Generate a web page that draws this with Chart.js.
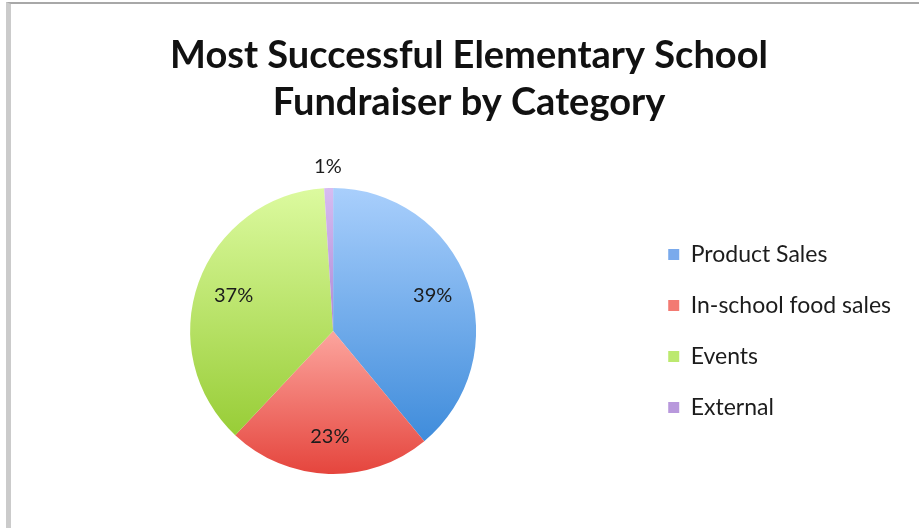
<!DOCTYPE html>
<html>
<head>
<meta charset="utf-8">
<script src="https://cdn.jsdelivr.net/npm/chart.js@4"></script>
<style>
html, body { margin: 0; padding: 0; background: #fff; overflow: hidden; }
#wrap { position: relative; width: 919px; height: 528px; }
#fundChart { position: absolute; left: 0; top: 0; }
#frame { position: absolute; left: 6px; top: 2px; right: 0; bottom: 0; border-left: 5px solid #cbcbcb; border-top: 2px solid #a8a8a8; pointer-events: none; }
</style>
</head>
<body>
<div id="wrap">
    <canvas id="fundChart" width="919" height="528"></canvas>
    <div id="frame"></div>
</div>
<script>
// Chart data
const titleLines = ['Most Successful Elementary School', 'Fundraiser by Category'];
const categories = ['Product Sales', 'In-school food sales', 'Events', 'External'];
const shares = [39, 23, 37, 1];

// Slice colours (Excel style vertical gradient per slice)
const topColors = ['#a9cffc', '#fca59e', '#dcfa9f', '#d7bcf1'];
const bottomColors = ['#3f8cdb', '#e5453d', '#98cd37', '#ae88d5'];
const legendColors = ['#7aaaec', '#f37a72', '#bce96f', '#b898dc'];

const fontFamily = 'Lato, "Open Sans", sans-serif';
const textColor = '#1c1c1c';

// Gives every slice its own top-to-bottom gradient
const sliceGradient = {
    id: 'sliceGradient',
    beforeDatasetsDraw(chart) {
        const ctx = chart.ctx;
        chart.getDatasetMeta(0).data.forEach((arc, i) => {
            const p = arc.getProps(['x', 'y', 'startAngle', 'endAngle', 'outerRadius']);
            const ys = [p.y, p.y + Math.sin(p.startAngle) * p.outerRadius, p.y + Math.sin(p.endAngle) * p.outerRadius];
            [-Math.PI / 2, Math.PI / 2, Math.PI * 1.5].forEach(a => {
                if (a >= p.startAngle && a <= p.endAngle) ys.push(p.y + Math.sin(a) * p.outerRadius);
            });
            const g = ctx.createLinearGradient(0, Math.min(...ys), 0, Math.max(...ys));
            g.addColorStop(0, topColors[i]);
            g.addColorStop(1, bottomColors[i]);
            arc.options = Object.assign({}, arc.options, { backgroundColor: g });
        });
    }
};

// Percentage labels on the slices
const sliceLabels = {
    id: 'sliceLabels',
    afterDatasetsDraw(chart) {
        const ctx = chart.ctx;
        ctx.save();
        ctx.font = '20px ' + fontFamily;
        ctx.fillStyle = textColor;
        ctx.textAlign = 'center';
        ctx.textBaseline = 'middle';
        chart.getDatasetMeta(0).data.forEach((arc, i) => {
            const p = arc.getProps(['x', 'y', 'startAngle', 'endAngle', 'outerRadius']);
            const mid = (p.startAngle + p.endAngle) / 2;
            const dist = shares[i] < 5 ? p.outerRadius + 22 : p.outerRadius * 0.74;
            ctx.fillText(shares[i] + '%', p.x + Math.cos(mid) * dist, p.y + Math.sin(mid) * dist);
        });
        ctx.restore();
    }
};

// Two line bold title, centred over the whole frame
const chartTitle = {
    id: 'chartTitle',
    afterDraw(chart) {
        const ctx = chart.ctx;
        ctx.save();
        ctx.font = 'bold 38px ' + fontFamily;
        ctx.fillStyle = '#111';
        ctx.textAlign = 'center';
        ctx.textBaseline = 'alphabetic';
        ctx.fillText(titleLines[0], 469, 68);
        ctx.fillText(titleLines[1], 469, 115);
        ctx.restore();
    }
};

new Chart(document.getElementById('fundChart'), {
    type: 'pie',
    data: {
        labels: categories,
        datasets: [{
            data: shares,
            backgroundColor: legendColors,
            borderWidth: 0
        }]
    },
    options: {
        responsive: false,
        animation: false,
        layout: {
            padding: { top: 188, bottom: 54, left: 26, right: 18 }
        },
        plugins: {
            title: { display: false },
            tooltip: { enabled: false },
            legend: {
                position: 'right',
                labels: {
                    boxWidth: 11,
                    boxHeight: 11,
                    padding: 28,
                    color: textColor,
                    font: { family: fontFamily, size: 23 }
                }
            }
        }
    },
    plugins: [sliceGradient, sliceLabels, chartTitle]
});
</script>
</body>
</html>
